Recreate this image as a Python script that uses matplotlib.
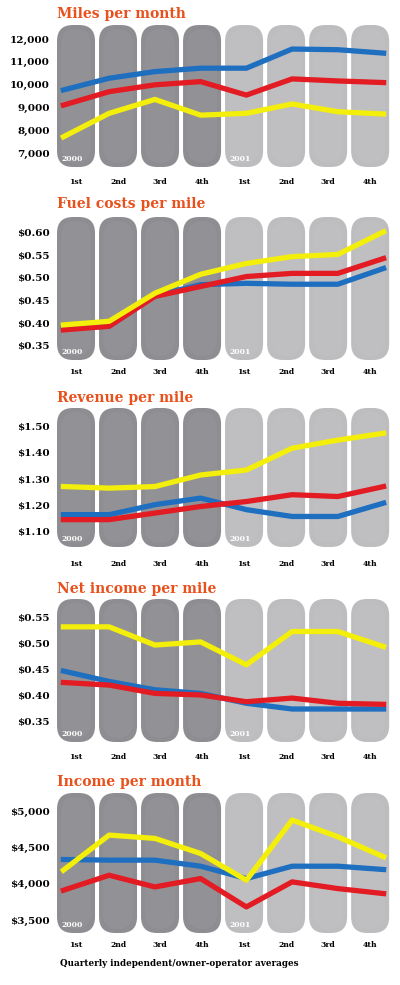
import matplotlib
matplotlib.use("Agg")
import matplotlib.pyplot as plt
from matplotlib.patches import FancyBboxPatch
import numpy as np

# ---------------- data ----------------
quarters = ["1st", "2nd", "3rd", "4th", "1st", "2nd", "3rd", "4th"]
years = ["2000", "2001"]

titles = ["Miles per month", "Fuel costs per mile", "Revenue per mile",
          "Net income per mile", "Income per month"]

miles_blue = [9765, 10280, 10570, 10720, 10720, 11560, 11530, 11380]
miles_red = [9100, 9690, 9990, 10130, 9540, 10250, 10160, 10090]
miles_yellow = [7710, 8740, 9350, 8660, 8740, 9150, 8810, 8710]

fuel_blue = [0.389, 0.393, 0.461, 0.485, 0.488, 0.486, 0.486, 0.521]
fuel_red = [0.385, 0.393, 0.459, 0.481, 0.503, 0.510, 0.510, 0.543]
fuel_yellow = [0.396, 0.404, 0.466, 0.508, 0.532, 0.547, 0.552, 0.602]

rev_blue = [1.165, 1.165, 1.203, 1.228, 1.184, 1.158, 1.158, 1.209]
rev_red = [1.146, 1.146, 1.171, 1.196, 1.215, 1.241, 1.234, 1.272]
rev_yellow = [1.272, 1.266, 1.272, 1.316, 1.335, 1.418, 1.449, 1.475]

net_blue = [0.448, 0.428, 0.412, 0.405, 0.386, 0.375, 0.375, 0.375]
net_red = [0.426, 0.421, 0.405, 0.402, 0.389, 0.396, 0.386, 0.384]
net_yellow = [0.533, 0.533, 0.498, 0.504, 0.460, 0.524, 0.524, 0.495]

inc_blue = [4338, 4329, 4329, 4245, 4074, 4245, 4245, 4199]
inc_red = [3912, 4120, 3958, 4074, 3681, 4028, 3935, 3866]
inc_yellow = [4190, 4676, 4630, 4421, 4051, 4884, 4653, 4375]

ticks_miles = [12000, 11000, 10000, 9000, 8000, 7000]
ticklabels_miles = ["12,000", "11,000", "10,000", "9,000", "8,000", "7,000"]
ticks_fuel = [0.60, 0.55, 0.50, 0.45, 0.40, 0.35]
ticklabels_fuel = ["$0.60", "$0.55", "$0.50", "$0.45", "$0.40", "$0.35"]
ticks_rev = [1.50, 1.40, 1.30, 1.20, 1.10]
ticklabels_rev = ["$1.50", "$1.40", "$1.30", "$1.20", "$1.10"]
ticks_net = [0.55, 0.50, 0.45, 0.40, 0.35]
ticklabels_net = ["$0.55", "$0.50", "$0.45", "$0.40", "$0.35"]
ticks_inc = [5000, 4500, 4000, 3500]
ticklabels_inc = ["$5,000", "$4,500", "$4,000", "$3,500"]

footer = "Quarterly independent/owner-operator averages"

# ---------------- styling / layout ----------------
W, H = 400, 985
fig = plt.figure(figsize=(W / 100, H / 100), dpi=100)
fig.patch.set_facecolor("white")

FONT = "DejaVu Serif"
TITLE_C = "#e8501c"
BLUE, RED, YEL = "#1f6fc0", "#e31b23", "#f3ee0a"
DARK_PILL, LIGHT_PILL = "#8e8e92", "#bdbdc0"

LEFT_PX, RIGHT_PX = 55, 392
XLIM = (-0.5, 7.52)
line_x = np.linspace(-0.30, 7.32, len(quarters))

panels = [
    dict(series=(miles_blue, miles_red, miles_yellow), ticks=ticks_miles, tl=ticklabels_miles,
         top=25, bot=167, ra=(12000, 39), rb=(7000, 153), ty=14, xpad=11),
    dict(series=(fuel_blue, fuel_red, fuel_yellow), ticks=ticks_fuel, tl=ticklabels_fuel,
         top=217, bot=360, ra=(0.60, 232.7), rb=(0.35, 345.7), ty=204, xpad=8),
    dict(series=(rev_blue, rev_red, rev_yellow), ticks=ticks_rev, tl=ticklabels_rev,
         top=408, bot=547, ra=(1.50, 426.7), rb=(1.10, 531.7), ty=398, xpad=13),
    dict(series=(net_blue, net_red, net_yellow), ticks=ticks_net, tl=ticklabels_net,
         top=599, bot=742, ra=(0.55, 618), rb=(0.35, 722), ty=589, xpad=11),
    dict(series=(inc_blue, inc_red, inc_yellow), ticks=ticks_inc, tl=ticklabels_inc,
         top=793, bot=933, ra=(5000, 811.7), rb=(3500, 920), ty=782, xpad=8),
]

bg = fig.add_axes([0, 0, 1, 1], zorder=0)
bg.set_xlim(0, W)
bg.set_ylim(H, 0)
bg.axis("off")

PX2PT = 72 / 100

for k, p in enumerate(panels):
    T, B = p["top"], p["bot"]
    ax = fig.add_axes([LEFT_PX / W, 1 - B / H, (RIGHT_PX - LEFT_PX) / W, (B - T) / H], zorder=1)
    ax.set_facecolor("none")
    (va, pa), (vb, pb) = p["ra"], p["rb"]
    per_px = (va - vb) / (pb - pa)
    ax.set_ylim(vb - (B - pb) * per_px, va + (pa - T) * per_px)
    ax.set_xlim(*XLIM)
    for s in ax.spines.values():
        s.set_visible(False)

    span = XLIM[1] - XLIM[0]
    for i in range(len(quarters)):
        cx = LEFT_PX + (i - XLIM[0]) / span * (RIGHT_PX - LEFT_PX)
        hw = 19
        r = 16
        col = DARK_PILL if i < 4 else LIGHT_PILL
        bg.add_patch(FancyBboxPatch((cx - hw + r, T + r), 2 * hw - 2 * r, (B - T) - 2 * r,
                                    boxstyle=f"round,pad={r},rounding_size={r}",
                                    fc=col, ec="none", zorder=1))
        bg.add_patch(FancyBboxPatch((cx - hw + r + 4, T + r + 4), 2 * hw - 2 * r - 8, (B - T) - 2 * r - 8,
                                    boxstyle=f"round,pad={r},rounding_size={r}",
                                    fc="white", ec="none", alpha=0.04, zorder=2))
        if i in (0, 4):
            bg.text(cx - 4, B - 8, years[i // 4], color="white", fontsize=5.5,
                    fontweight="bold", family=FONT, ha="center", va="center", zorder=3)

    sb, sr, sy = p["series"]
    ax.plot(line_x, sb, color=BLUE, lw=3.8, solid_joinstyle="round", zorder=3)
    ax.plot(line_x, sr, color=RED, lw=3.8, solid_joinstyle="round", zorder=4)
    ax.plot(line_x, sy, color=YEL, lw=3.8, solid_joinstyle="round", zorder=5)

    ax.set_yticks(p["ticks"])
    ax.set_yticklabels(p["tl"], fontsize=7.5, fontweight="heavy", family=FONT)
    ax.tick_params(axis="y", length=0, pad=5 * PX2PT)
    ax.set_xticks(range(len(quarters)))
    ax.set_xticklabels(quarters, fontsize=5.5, fontweight="heavy", family=FONT)
    ax.tick_params(axis="x", length=0, pad=p["xpad"] * PX2PT)

    bg.text(57, p["ty"], titles[k], color=TITLE_C, fontsize=10, fontweight="heavy",
            family=FONT, ha="left", va="center", zorder=3)

bg.text(60, 963, footer, color="black", fontsize=6.3, fontweight="bold", family=FONT,
        ha="left", va="center", zorder=3)

fig.savefig("out.png", dpi=100, facecolor="white")
